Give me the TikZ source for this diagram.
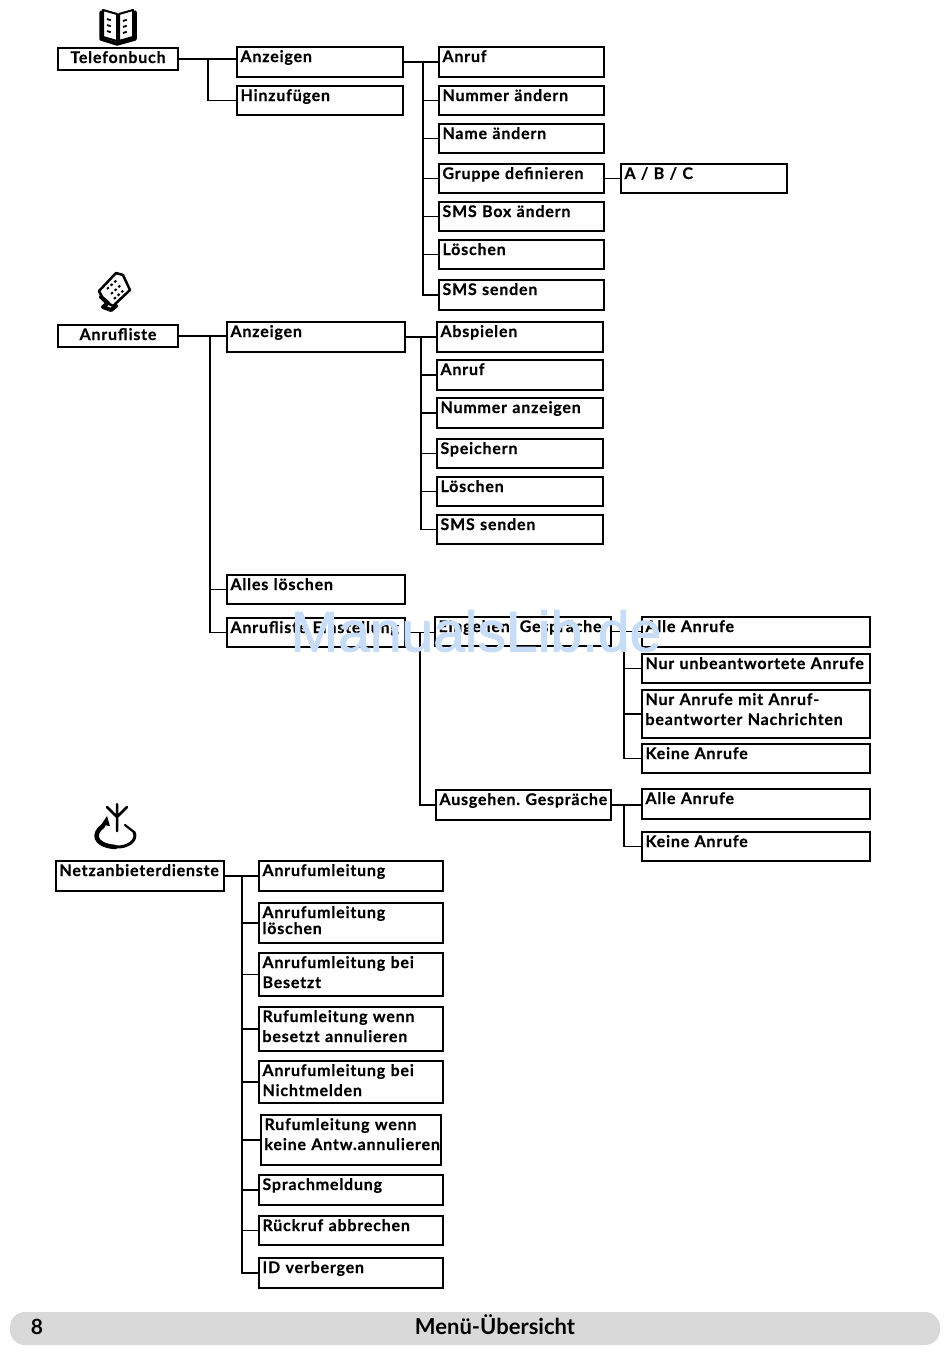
\documentclass[tikz,border=0pt]{standalone}
\usepackage{fontspec}
\setmainfont{Lato}[BoldFeatures={LetterSpace=5,FakeBold=0.4,WordSpace=0.75}]
\newfontfamily\barfont{Lato}
\newfontfamily\markfont{Liberation Sans}[FakeBold=1.6]
\definecolor{barGray}{HTML}{D9D9D9}
\definecolor{markBlue}{HTML}{C6DCF7}
\frenchspacing
\tikzset{menubox/.style 2 args={draw, line width=2pt, anchor=north west, outer sep=0pt, inner xsep=3.5pt, inner ysep=0pt, text width=(#1-7)*1pt, text height=15pt, text depth=(#2-15)*1pt, align=left, font=\fontsize{16}{20}\selectfont\bfseries},
	rootbox/.style 2 args={draw, line width=2pt, anchor=north west, outer sep=0pt, inner sep=0pt, text width=#1*1pt, text height=(#2/2+4)*1pt, text depth=(#2/2-4)*1pt, align=center, font=\fontsize{16}{20}\selectfont\bfseries},
	link/.style={line width=1.8pt}, icon/.style={line width=2pt, line cap=round, line join=round}}
\begin{document}
\begin{tikzpicture}[x=1pt,y=-1pt]
	\useasboundingbox (0,0) rectangle (950,1368);
	% Telefonbuch
	\node[rootbox={120}{22}] (tbRoot) at (58,48) {Telefonbuch};
	\node[menubox={166}{30}] (tbShow) at (237,47) {Anzeigen};
	\node[menubox={166}{29}] (tbAdd) at (237,86) {Hinzuf\"ugen};
	\node[menubox={165}{30}] (tbCall) at (439,47) {Anruf};
	\node[menubox={165}{29}] (tbNum) at (439,86) {Nummer \"andern};
	\node[menubox={165}{29}] (tbName) at (439,124) {Name \"andern};
	\node[menubox={165}{29}] (tbGroup) at (439,164) {Gruppe definieren};
	\node[menubox={165}{29}] (tbSms) at (439,202) {SMS Box \"andern};
	\node[menubox={165}{29}] (tbDel) at (439,240) {L\"oschen};
	\node[menubox={165}{30}] (tbSend) at (439,280) {SMS senden};
	\node[menubox={166}{29}] (tbAbc) at (621,164) {A / B / C};
	\coordinate (tbTrunkA) at (208,60);
	\coordinate (tbTrunkB) at (423,62);
	\draw[link] (tbRoot.east) -- (tbRoot.east -| tbShow.west);
	\draw[link] (tbTrunkA) |- (tbAdd.west);
	\draw[link] (tbShow.east) -- (tbCall.west);
	\draw[link] (tbTrunkB) |- (tbNum.west);
	\draw[link] (tbTrunkB) |- (tbName.west);
	\draw[link] (tbTrunkB) |- (tbGroup.west);
	\draw[link] (tbTrunkB) |- (tbSms.west);
	\draw[link] (tbTrunkB) |- (tbDel.west);
	\draw[link] (tbTrunkB) |- (tbSend.west);
	\draw[link] (tbGroup.east) -- (tbAbc.west);
	% Anrufliste
	\node[rootbox={120}{22}] (alRoot) at (58,325) {Anrufliste};
	\node[menubox={178}{30}] (alShow) at (227,322) {Anzeigen};
	\node[menubox={178}{29}] (alClear) at (227,575) {Alles l\"oschen};
	\node[menubox={178}{29}] (alSet) at (227,618) {Anrufliste Einstellung};
	\node[menubox={166}{30}] (alPlay) at (437,322) {Abspielen};
	\node[menubox={166}{30}] (alCall) at (437,360) {Anruf};
	\node[menubox={166}{30}] (alNum) at (437,398) {Nummer anzeigen};
	\node[menubox={166}{29}] (alSave) at (437,439) {Speichern};
	\node[menubox={166}{29}] (alDel) at (437,477) {L\"oschen};
	\node[menubox={166}{29}] (alSend) at (437,515) {SMS senden};
	\node[menubox={176}{29}] (alIn) at (435,617) {\mbox{Eingehen. Gespr\"ache}};
	\node[menubox={175}{30}] (alOut) at (436,790) {\mbox{Ausgehen. Gespr\"ache}};
	\node[menubox={228}{30}] (inAll) at (642,617) {Alle Anrufe};
	\node[menubox={228}{29}] (inMiss) at (642,654) {Nur unbeantwortete Anrufe};
	\node[menubox={228}{48}] (inMsg) at (642,690) {Nur Anrufe mit Anruf-\\beantworter Nachrichten};
	\node[menubox={228}{29}] (inNone) at (642,744) {Keine Anrufe};
	\node[menubox={228}{30}] (outAll) at (642,789) {Alle Anrufe};
	\node[menubox={228}{29}] (outNone) at (642,832) {Keine Anrufe};
	\coordinate (alTrunkA) at (210,337);
	\coordinate (alTrunkB) at (421,337);
	\coordinate (alTrunkC) at (420,633);
	\coordinate (inTrunk) at (624,632);
	\coordinate (outTrunk) at (624,804);
	\draw[link] (alRoot.east) -- (alRoot.east -| alShow.west);
	\draw[link] (alTrunkA) |- (alClear.west);
	\draw[link] (alTrunkA) |- (alSet.west);
	\draw[link] (alShow.east) -- (alPlay.west);
	\draw[link] (alTrunkB) |- (alCall.west);
	\draw[link] (alTrunkB) |- (alNum.west);
	\draw[link] (alTrunkB) |- (alSave.west);
	\draw[link] (alTrunkB) |- (alDel.west);
	\draw[link] (alTrunkB) |- (alSend.west);
	\draw[link] (alSet.east) -- (alSet.east -| alIn.west);
	\draw[link] (alTrunkC) |- (alOut.west);
	\draw[link] (alIn.east) -- (alIn.east -| inAll.west);
	\draw[link] (inTrunk) |- (inMiss.west);
	\draw[link] (inTrunk) |- (inMsg.west);
	\draw[link] (inTrunk) |- (inNone.west);
	\draw[link] (alOut.east) -- (alOut.east -| outAll.west);
	\draw[link] (outTrunk) |- (outNone.west);
	% Netzanbieterdienste
	\node[menubox={168}{30}] (ndRoot) at (56,861) {Netzanbieterdienste};
	\node[menubox={184}{30}] (ndFwd) at (259,861) {Anrufumleitung};
	\node[menubox={184}{40}] (ndFwdDel) at (259,903) {Anrufumleitung\\[-4pt]l\"oschen};
	\node[menubox={184}{43}] (ndBusy) at (259,953) {Anrufumleitung bei\\Besetzt};
	\node[menubox={184}{44}] (ndBusyDel) at (259,1007) {Rufumleitung wenn\\besetzt annulieren};
	\node[menubox={184}{42}] (ndNoAns) at (259,1061) {Anrufumleitung bei\\Nichtmelden};
	\node[menubox={180}{50}] (ndNoAnsDel) at (261,1115) {Rufumleitung wenn\\\mbox{keine Antw.annulieren}};
	\node[menubox={184}{30}] (ndVoice) at (259,1175) {Sprachmeldung};
	\node[menubox={184}{29}] (ndBack) at (259,1216) {R\"uckruf abbrechen};
	\node[menubox={184}{30}] (ndHide) at (259,1258) {ID verbergen};
	\coordinate (ndTrunk) at (242,876);
	\draw[link] (ndRoot.east) -- (ndFwd.west);
	\draw[link] (ndTrunk) |- (ndFwdDel.west);
	\draw[link] (ndTrunk) |- (ndBusy.west);
	\draw[link] (ndTrunk) |- (ndBusyDel.west);
	\draw[link] (ndTrunk) |- (ndNoAns.west);
	\draw[link] (ndTrunk) |- (ndNoAnsDel.west);
	\draw[link] (ndTrunk) |- (ndVoice.west);
	\draw[link] (ndTrunk) |- (ndBack.west);
	\draw[link] (ndTrunk) |- (ndHide.west);
	% icons
	\draw[icon] (103,10) -- (117,14) -- (117,41) -- (103,37) -- cycle;
	\draw[icon] (133,10) -- (119,14) -- (119,41) -- (133,37) -- cycle;
	\draw[icon,line width=3.5pt] (101,12) -- (101,39) -- (117,44) -- (135,39) -- (135,12);
	\draw[line width=1.8pt,dash pattern=on 4pt off 2.5pt] (107,19) -- (113,21) (107,25) -- (113,27) (107,31) -- (113,33) (123,21) -- (129,19) (123,27) -- (129,25) (123,33) -- (129,31);
	\draw[icon,line width=2.5pt] (99,291) -- (116,273) -- (123,275) -- (130,290) -- (113,306) -- (104,301) -- cycle;
	\draw[line width=2pt,dash pattern=on 2.5pt off 2.5pt] (107,289) -- (118,279) (111,294) -- (122,284) (114,299) -- (125,289);
	\draw[icon,line width=4pt] (101,297) -- (108,303) -- (103,307) -- (111,310) -- (116,306);
	\draw[icon,line width=2.5pt] (117,804) -- (117,831) (107,807) -- (117,817) -- (127,807);
	\draw[icon,line width=4.5pt] (103,826) .. controls (93,833) and (93,845) .. (115,847);
	\draw[icon,line width=3pt] (115,847) .. controls (128,848) and (138,840) .. (134,832);
	\draw[icon,line width=2.2pt] (134,832) -- (125,825);
	\fill (110,826) -- (101,825) -- (107,816) -- cycle;
	% footer
	\fill[barGray, rounded corners=15pt] (10,1312) rectangle (940,1345);
	\node[font=\fontsize{21}{22}\selectfont\barfont\bfseries] (pageNum) at (37,1326.5) {8};
	\node[font=\fontsize{22}{24}\selectfont\barfont\bfseries] (pageTitle) at (495,1325) {Men\"u-\"Ubersicht};
	% mark
	\node[font=\fontsize{57}{60}\selectfont\markfont, text=markBlue, inner sep=0pt] (siteMark) at (476,631) {ManualsLib.de};
\end{tikzpicture}
\end{document}
